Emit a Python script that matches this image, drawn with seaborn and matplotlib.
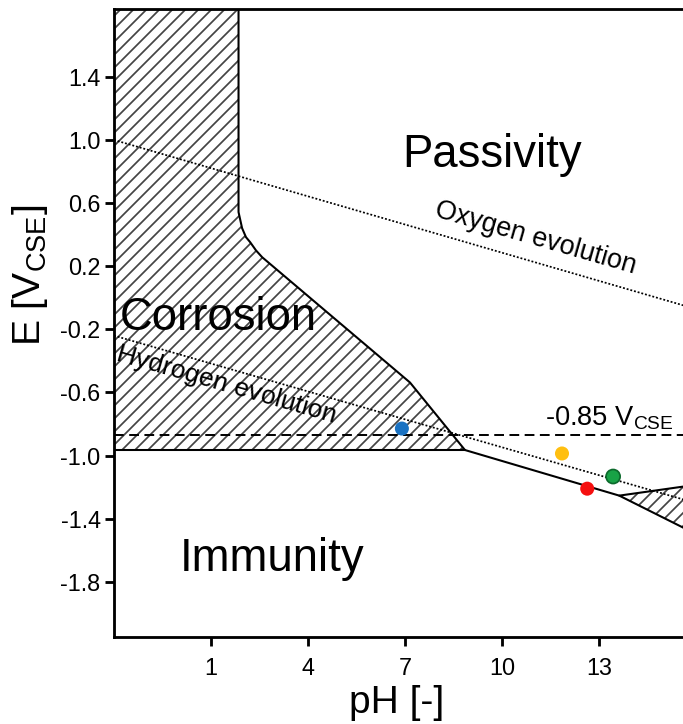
import matplotlib
matplotlib.use('Agg')
import matplotlib.pyplot as plt
import pandas as pd
import seaborn as sns

# Pourbaix-type diagram, values (pH [-], E [V_CSE])
corr_ph = [-2, 1.85, 1.85, 1.96, 2.08, 2.21, 2.39, 2.58, 7.15, 8.85, -2]
corr_e = [1.9, 1.9, 0.543, 0.441, 0.384, 0.352, 0.30, 0.257, -0.537, -0.965, -0.965]

imm_ph = [8.85, 13.62, 15.9]
imm_e = [-0.965, -1.254, -1.488]

tri_ph = [13.62, 15.9, 15.9]
tri_e = [-1.254, -1.188, -1.488]

o2_ph = [-2, 15.9]
o2_e = [1.0, -0.066]
h2_ph = [-2, 15.9]
h2_e = [-0.24, -1.296]

prot_e = -0.87

pts_ph = [6.9, 11.85, 12.63, 13.43]
pts_e = [-0.829, -0.987, -1.21, -1.133]
pts_name = ['blue', 'yellow', 'red', 'green']
pts_color = {'blue': '#1a72c2', 'yellow': '#ffbf10', 'red': '#f50f0f', 'green': '#18a246'}

xticks = [1, 4, 7, 10, 13]
yticks = [-1.8, -1.4, -1.0, -0.6, -0.2, 0.2, 0.6, 1.0, 1.4]
ytick_labels = ['-1.8', '-1.4', '-1.0', '-0.6', '-0.2', '0.2', '0.6', '1.0', '1.4']

sns.set_style('ticks')
plt.rcParams['font.family'] = ['Liberation Sans', 'DejaVu Sans']
plt.rcParams['mathtext.fontset'] = 'custom'
plt.rcParams['mathtext.rm'] = 'Liberation Sans'
plt.rcParams['mathtext.it'] = 'Liberation Sans:italic'
plt.rcParams['axes.unicode_minus'] = False
plt.rcParams['hatch.linewidth'] = 0.8
plt.rcParams['text.color'] = 'black'
plt.rcParams['axes.labelcolor'] = 'black'

DPI = 156
fig = plt.figure(figsize=(683 / DPI, 724 / DPI), dpi=DPI)
fig.patch.set_facecolor('white')
ax = fig.add_axes([114 / 683, 87 / 724, 579 / 683, 628 / 724])
ax.set_facecolor('white')

# hatched regions
ax.fill(corr_ph, corr_e, facecolor='white', edgecolor='#444444', lw=0, hatch='////', zorder=1)
ax.fill(tri_ph, tri_e, facecolor='white', edgecolor='#444444', lw=0, hatch='////', zorder=1)

# region boundaries
blw = 0.95
sns.lineplot(x=corr_ph[1:10], y=corr_e[1:10], sort=False, estimator=None,
             color='black', lw=blw, ax=ax, zorder=3)
sns.lineplot(x=corr_ph[9:11], y=corr_e[9:11], sort=False, estimator=None,
             color='black', lw=blw, ax=ax, zorder=3)
sns.lineplot(x=imm_ph, y=imm_e, sort=False, estimator=None,
             color='black', lw=blw, ax=ax, zorder=3)
sns.lineplot(x=tri_ph[:2], y=tri_e[:2], sort=False, estimator=None,
             color='black', lw=blw, ax=ax, zorder=3)

# water stability lines
sns.lineplot(x=o2_ph, y=o2_e, color='black', lw=0.8, ls=(0, (1.1, 1.1)), ax=ax, zorder=2)
sns.lineplot(x=h2_ph, y=h2_e, color='black', lw=0.8, ls=(0, (1.1, 1.1)), ax=ax, zorder=2)
ax.axhline(prot_e, color='black', lw=0.9, ls=(0, (5, 2.8)), zorder=2)

# measured samples
samples = pd.DataFrame({'ph': pts_ph, 'e': pts_e, 'sample': pts_name})
sns.scatterplot(data=samples, x='ph', y='e', hue='sample', palette=pts_color,
                s=42, edgecolor='none', legend=False, ax=ax, zorder=5)
sns.scatterplot(x=[pts_ph[3]], y=[pts_e[3]], s=42, facecolor='none',
                edgecolor='#0c6a2c', linewidth=0.8, ax=ax, zorder=6)

ax.set_xlim(-2, 15.9)
ax.set_ylim(-2.15, 1.83)
ax.set_xticks(xticks)
ax.set_xticklabels([str(t) for t in xticks])
ax.set_yticks(yticks)
ax.set_yticklabels(ytick_labels)
ax.set_xlabel('')
ax.set_ylabel('')

for s in ['left', 'bottom', 'top']:
    ax.spines[s].set_linewidth(1.3)
    ax.spines[s].set_color('black')
ax.spines['right'].set_visible(False)
ax.tick_params(axis='both', direction='out', length=4.2, width=1.3, colors='black',
               labelsize=10.8)
ax.tick_params(axis='x', pad=5)
ax.tick_params(axis='y', pad=2)

# region labels
big = 21
ax.text(9.69, 0.905, 'Passivity', fontsize=big, ha='center', va='center')
ax.text(1.22, -0.13, 'Corrosion', fontsize=big, ha='center', va='center', zorder=4)
ax.text(2.89, -1.654, 'Immunity', fontsize=big, ha='center', va='center')

ax.text(11.02, 0.378, 'Oxygen evolution', fontsize=12.4, rotation=-16,
        rotation_mode='anchor', ha='center', va='center')
ax.text(1.49, -0.549, 'Hydrogen evolution', fontsize=12.2, rotation=-16,
        rotation_mode='anchor', ha='center', va='center', zorder=4)
ax.text(11.33, -0.81, r'-0.85 V$_{\mathrm{CSE}}$', fontsize=12.6, ha='left', va='baseline')

fig.text(397 / 683, 1 - 703 / 724, 'pH [-]', fontsize=18, ha='center', va='center')
fig.text(30 / 683, 1 - 275 / 724, r'E [V$_{\mathrm{CSE}}$]', fontsize=18,
         rotation=90, ha='center', va='center')

fig.savefig('out.png', dpi=DPI, facecolor='white')
